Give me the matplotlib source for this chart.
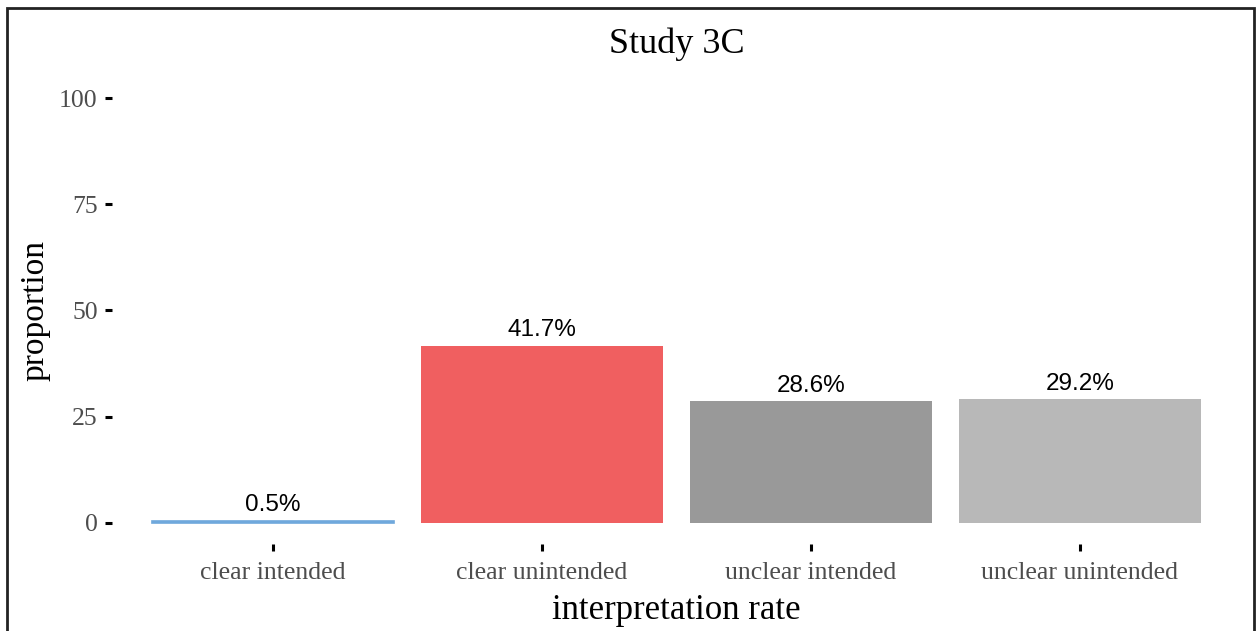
import matplotlib
matplotlib.use("Agg")
import matplotlib.pyplot as plt
from matplotlib.patches import Rectangle

# data
categories = ["clear intended", "clear unintended", "unclear intended", "unclear unintended"]
values = [0.5, 41.7, 28.6, 29.2]
bar_labels = ["0.5%", "41.7%", "28.6%", "29.2%"]
colors = ["#6fa8dc", "#f05f60", "#999999", "#b8b8b8"]
yticks = [0, 25, 50, 75, 100]

serif = ["Liberation Serif", "DejaVu Serif"]
sans = ["Liberation Sans", "DejaVu Sans"]

fig = plt.figure(figsize=(12.57, 6.31), dpi=100)
ax = fig.add_axes([0.0888, 0.1379, 0.8985, 0.7401])

x = list(range(1, len(categories) + 1))
bars = ax.bar(x, values, width=0.9, color=colors)
bars[0].set_edgecolor(colors[0])
bars[0].set_linewidth(1.2)
for xi, v, lab in zip(x, values, bar_labels):
    ax.text(xi, v + 1.0, lab, ha="center", va="bottom", fontsize=17.5, family=sans, color="black")

ax.set_xlim(0.4, 4.6)
ax.set_ylim(-5, 105)
ax.set_xticks(x)
ax.set_xticklabels(categories, family=serif, fontsize=18.5, color="#4d4d4d")
ax.set_yticks(yticks)
ax.set_yticklabels([str(t) for t in yticks], family=serif, fontsize=18.5, color="#4d4d4d")
ax.tick_params(axis="both", length=5, width=2.2, color="black", pad=5)
ax.tick_params(axis="x", pad=8)
for s in ax.spines.values():
    s.set_visible(False)

ax.set_xlabel("interpretation rate", family=serif, fontsize=25, labelpad=7)
ax.set_ylabel("proportion", family=serif, fontsize=24, labelpad=6)
ax.set_title("Study 3C", family=serif, fontsize=26, pad=17)

# outer frame
fig.patches.append(Rectangle((7 / 1257, -0.1), 1247 / 1257, 1.1 - 8 / 631,
                             transform=fig.transFigure, fill=False,
                             edgecolor="#222222", linewidth=2))

fig.savefig("out.png", dpi=100)
